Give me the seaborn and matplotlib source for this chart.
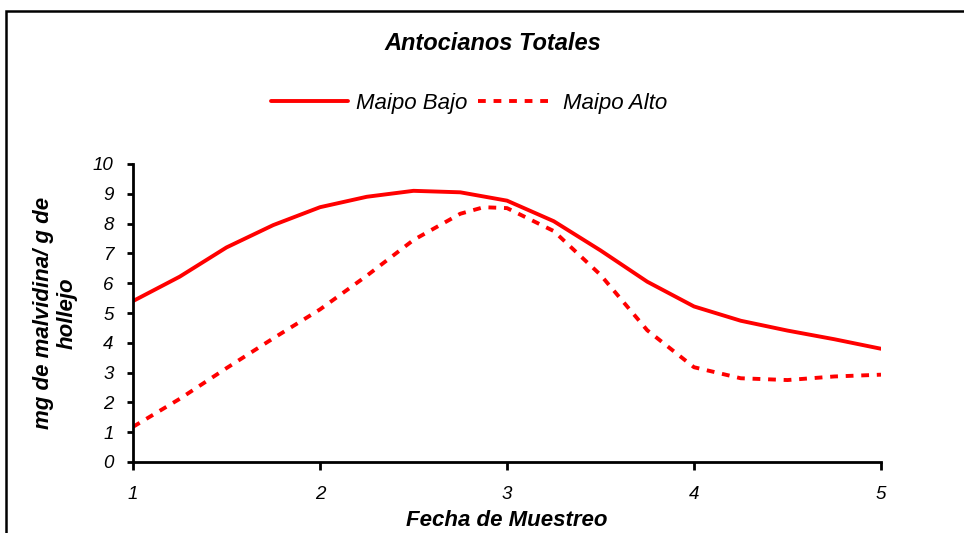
import matplotlib
matplotlib.use("Agg")
import matplotlib.pyplot as plt
from matplotlib.patches import Rectangle
import seaborn as sns
import pandas as pd

fecha = [1.0, 1.25, 1.5, 1.75, 2.0, 2.25, 2.5, 2.75, 3.0, 3.25, 3.5, 3.75, 4.0, 4.25, 4.5, 4.75, 5.0]
maipo_bajo = [5.40, 6.22, 7.20, 7.95, 8.55, 8.90, 9.10, 9.05, 8.77, 8.08, 7.10, 6.05, 5.22, 4.74, 4.41, 4.12, 3.80]
fecha_alto = [1.0, 1.25, 1.5, 1.75, 2.0, 2.25, 2.5, 2.75, 2.875, 3.0, 3.25, 3.5, 3.75, 4.0, 4.25, 4.5, 4.75, 5.0]
maipo_alto = [1.18, 2.12, 3.15, 4.15, 5.12, 6.25, 7.45, 8.33, 8.55, 8.52, 7.75, 6.28, 4.42, 3.18, 2.81, 2.75, 2.87, 2.93]
series = ["Maipo Bajo", "Maipo Alto"]

df = pd.concat([
    pd.DataFrame({"fecha": fecha, "valor": maipo_bajo, "serie": series[0]}),
    pd.DataFrame({"fecha": fecha_alto, "valor": maipo_alto, "serie": series[1]}),
], ignore_index=True)

sns.set_style("white")
plt.rcParams["font.family"] = ["Liberation Sans", "DejaVu Sans"]
plt.rcParams["text.color"] = "black"
plt.rcParams["axes.labelcolor"] = "black"
plt.rcParams["xtick.color"] = "black"
plt.rcParams["ytick.color"] = "black"

fig = plt.figure(figsize=(9.64, 5.33), dpi=100)
ax = fig.add_axes([133/964, 1-462/533, (881-133)/964, (462-164)/533])

sns.lineplot(data=df, x="fecha", y="valor", hue="serie", style="serie",
             palette={series[0]: "#FF0000", series[1]: "#FF0000"},
             dashes={series[0]: "", series[1]: (2, 2)},
             linewidth=2.8, ax=ax, sort=False, legend=True)

ax.set_xlim(1, 5)
ax.set_ylim(0, 10)
ax.set_xticks([1, 2, 3, 4, 5])
ax.set_yticks(range(0, 11))
for s in ["top", "right"]:
    ax.spines[s].set_visible(False)
for s in ["left", "bottom"]:
    ax.spines[s].set_linewidth(2)
    ax.spines[s].set_color("black")
ax.tick_params(axis="x", bottom=True, direction="out", length=6, width=2, pad=11,
               labelsize=13.5, colors="black")
ax.tick_params(axis="y", left=True, direction="out", length=4, width=2, pad=10,
               labelsize=13.5, colors="black")
for lab in ax.get_xticklabels() + ax.get_yticklabels():
    lab.set_fontstyle("italic")

ax.set_xlabel("Fecha de Muestreo", fontsize=16, fontweight="bold", fontstyle="italic")
ax.xaxis.set_label_coords(0.5, (462-521)/298)
ax.xaxis.label.set_va("center")
ax.set_ylabel("mg de malvidina/ g de\nhollejo", fontsize=16, fontweight="bold",
              fontstyle="italic", linespacing=1.15)
ax.yaxis.set_label_coords((55-133)/748, 0.5)
ax.yaxis.label.set_va("center")

handles, labels = ax.get_legend_handles_labels()
ax.legend(handles, labels, loc="center", bbox_to_anchor=(469/964, 1-103/533),
          bbox_transform=fig.transFigure, ncol=2, frameon=False,
          prop={"style": "italic", "size": 16}, handlelength=3.45,
          handletextpad=0.35, columnspacing=0.5)

fig.text(493/964, 1-44/533, "Antocianos Totales", ha="center", va="center",
         fontsize=17, fontweight="bold", fontstyle="italic")

fig.patches.append(Rectangle((6/964, -0.05), 1.2, 1-11/533+0.05,
                             transform=fig.transFigure, fill=False,
                             lw=1.8, ec="black"))

fig.savefig("out.png", dpi=100)
